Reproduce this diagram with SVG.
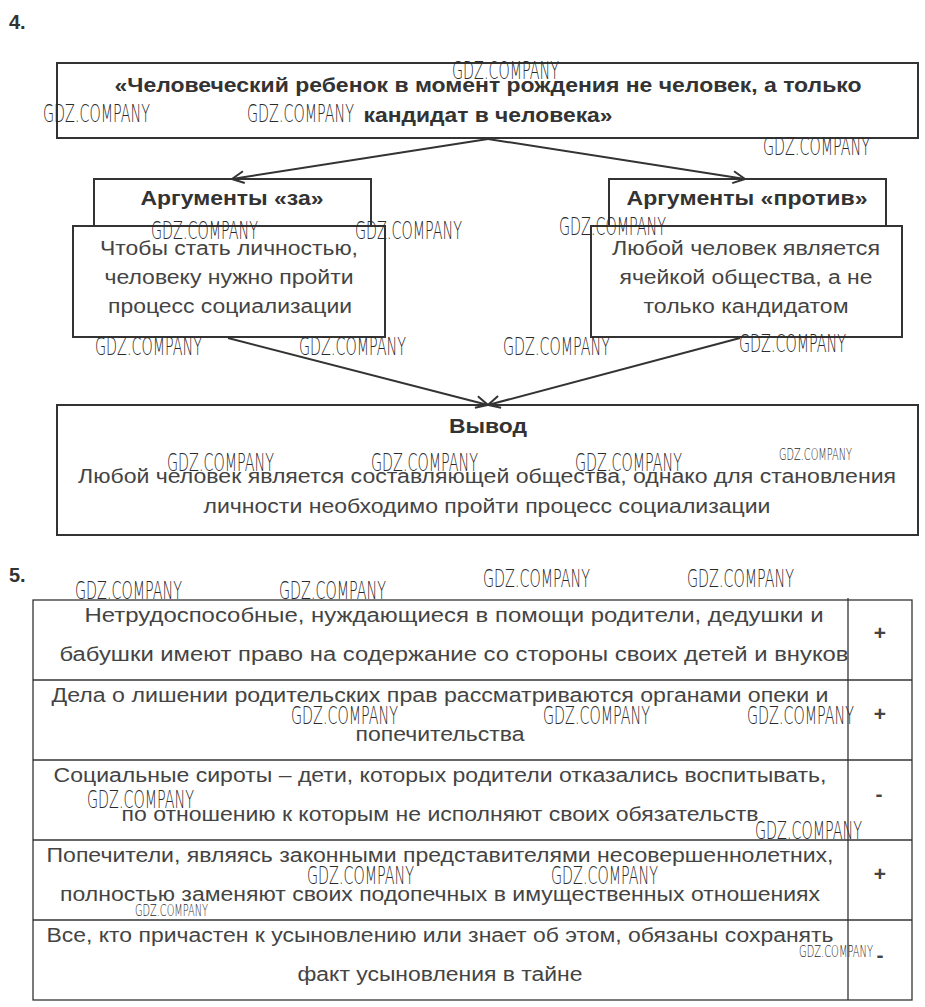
<svg xmlns="http://www.w3.org/2000/svg" width="925" height="1007" viewBox="0 0 925 1007">
<defs>
<style>
.box{fill:#fff;stroke:#333;stroke-width:2}
.hd{font-family:"Liberation Sans",Arial,sans-serif;font-weight:bold;font-size:20px;fill:#333;text-anchor:middle}
.tx{font-family:"Liberation Sans",Arial,sans-serif;font-size:20px;fill:#444;text-anchor:middle}
.num{font-family:"Liberation Sans",Arial,sans-serif;font-weight:bold;font-size:20px;fill:#333}
.tl{stroke:#333;stroke-width:1.3;fill:none}
.conn{stroke:#333;stroke-width:2;fill:none}
.wm{font-family:"DejaVu Sans","Liberation Sans",sans-serif;font-weight:200;font-size:24px;fill:#2a2a2a}
.wms{font-family:"DejaVu Sans","Liberation Sans",sans-serif;font-weight:200;font-size:15px;fill:#2a2a2a}
.mk{font-family:"Liberation Sans",Arial,sans-serif;font-weight:bold;font-size:21px;fill:#444;text-anchor:middle}
</style>
<marker id="arr" viewBox="0 0 14 14" refX="13" refY="7" markerWidth="14" markerHeight="14" markerUnits="userSpaceOnUse" orient="auto">
<path d="M1,1 L13,7 L1,13" fill="none" stroke="#333" stroke-width="2"/>
</marker>
</defs>
<rect width="925" height="1007" fill="#fff"/>
<text class="num" x="9" y="29">4.</text>
<text class="num" x="9" y="582">5.</text>

<g id="thesis">
<rect class="box" x="57" y="63" width="861" height="75"/>
<text class="hd" x="488" y="92" textLength="747" lengthAdjust="spacingAndGlyphs">«Человеческий ребенок в момент рождения не человек, а только</text>
<text class="hd" x="488" y="122" textLength="249" lengthAdjust="spacingAndGlyphs">кандидат в человека»</text>
</g>

<g id="pro">
<rect class="box" x="94" y="179" width="277" height="47"/>
<text class="hd" x="232" y="205" textLength="183" lengthAdjust="spacingAndGlyphs">Аргументы «за»</text>
<rect class="box" x="73" y="226" width="312" height="111"/>
<text class="tx" x="229" y="255" textLength="258" lengthAdjust="spacingAndGlyphs">Чтобы стать личностью,</text>
<text class="tx" x="229" y="284" textLength="249" lengthAdjust="spacingAndGlyphs">человеку нужно пройти</text>
<text class="tx" x="230" y="313" textLength="244" lengthAdjust="spacingAndGlyphs">процесс социализации</text>
</g>

<g id="contra">
<rect class="box" x="609" y="179" width="277" height="47"/>
<text class="hd" x="747" y="205" textLength="241" lengthAdjust="spacingAndGlyphs">Аргументы «против»</text>
<rect class="box" x="591" y="226" width="311" height="111"/>
<text class="tx" x="746" y="255" textLength="268" lengthAdjust="spacingAndGlyphs">Любой человек является</text>
<text class="tx" x="746" y="284" textLength="253" lengthAdjust="spacingAndGlyphs">ячейкой общества, а не</text>
<text class="tx" x="746" y="313" textLength="205" lengthAdjust="spacingAndGlyphs">только кандидатом</text>
</g>

<g id="conclusion">
<rect class="box" x="57" y="405" width="861" height="130"/>
<text class="hd" x="488" y="433" textLength="78" lengthAdjust="spacingAndGlyphs">Вывод</text>
<text class="tx" x="487" y="483" textLength="818" lengthAdjust="spacingAndGlyphs">Любой человек является составляющей общества, однако для становления</text>
<text class="tx" x="487" y="513" textLength="567" lengthAdjust="spacingAndGlyphs">личности необходимо пройти процесс социализации</text>
</g>

<g id="connectors">
<line class="conn" x1="488" y1="139" x2="232" y2="179" marker-end="url(#arr)"/>
<line class="conn" x1="488" y1="139" x2="745" y2="179" marker-end="url(#arr)"/>
<line class="conn" x1="228" y1="338" x2="488" y2="405" marker-end="url(#arr)"/>
<line class="conn" x1="740" y1="338" x2="488" y2="405" marker-end="url(#arr)"/>
</g>

<g id="table">
<rect class="tl" x="33" y="600" width="879" height="400"/>
<line class="tl" x1="33" y1="680" x2="912" y2="680"/>
<line class="tl" x1="33" y1="760" x2="912" y2="760"/>
<line class="tl" x1="33" y1="840" x2="912" y2="840"/>
<line class="tl" x1="33" y1="920" x2="912" y2="920"/>
<line class="tl" x1="848" y1="598" x2="848" y2="1000" stroke-width="1"/>
</g>

<g id="row1">
<text class="tx" x="454" y="622" textLength="739" lengthAdjust="spacingAndGlyphs">Нетрудоспособные, нуждающиеся в помощи родители, дедушки и</text>
<text class="tx" x="454" y="661" textLength="789" lengthAdjust="spacingAndGlyphs">бабушки имеют право на содержание со стороны своих детей и внуков</text>
<text class="mk" x="880" y="640">+</text>
</g>
<g id="row2">
<text class="tx" x="440" y="702" textLength="777" lengthAdjust="spacingAndGlyphs">Дела о лишении родительских прав рассматриваются органами опеки и</text>
<text class="tx" x="440" y="741" textLength="169" lengthAdjust="spacingAndGlyphs">попечительства</text>
<text class="mk" x="880" y="721">+</text>
</g>
<g id="row3">
<text class="tx" x="440" y="782" textLength="773" lengthAdjust="spacingAndGlyphs">Социальные сироты – дети, которых родители отказались воспитывать,</text>
<text class="tx" x="440" y="821" textLength="637" lengthAdjust="spacingAndGlyphs">по отношению к которым не исполняют своих обязательств</text>
<text class="mk" x="879" y="801">-</text>
</g>
<g id="row4">
<text class="tx" x="440" y="862" textLength="787" lengthAdjust="spacingAndGlyphs">Попечители, являясь законными представителями несовершеннолетних,</text>
<text class="tx" x="440" y="901" textLength="760" lengthAdjust="spacingAndGlyphs">полностью заменяют своих подопечных в имущественных отношениях</text>
<text class="mk" x="880" y="881">+</text>
</g>
<g id="row5">
<text class="tx" x="440" y="942" textLength="787" lengthAdjust="spacingAndGlyphs">Все, кто причастен к усыновлению или знает об этом, обязаны сохранять</text>
<text class="tx" x="440" y="981" textLength="285" lengthAdjust="spacingAndGlyphs">факт усыновления в тайне</text>
<text class="mk" x="880" y="962">-</text>
</g>

<g id="watermarks">
<text class="wm" x="452" y="79" textLength="107" lengthAdjust="spacingAndGlyphs">GDZ.COMPANY</text>
<text class="wm" x="43" y="122" textLength="107" lengthAdjust="spacingAndGlyphs">GDZ.COMPANY</text>
<text class="wm" x="247" y="122" textLength="107" lengthAdjust="spacingAndGlyphs">GDZ.COMPANY</text>
<text class="wm" x="763" y="155" textLength="107" lengthAdjust="spacingAndGlyphs">GDZ.COMPANY</text>
<text class="wm" x="151" y="239" textLength="107" lengthAdjust="spacingAndGlyphs">GDZ.COMPANY</text>
<text class="wm" x="355" y="239" textLength="107" lengthAdjust="spacingAndGlyphs">GDZ.COMPANY</text>
<text class="wm" x="559" y="235" textLength="107" lengthAdjust="spacingAndGlyphs">GDZ.COMPANY</text>
<text class="wm" x="95" y="355" textLength="107" lengthAdjust="spacingAndGlyphs">GDZ.COMPANY</text>
<text class="wm" x="299" y="355" textLength="107" lengthAdjust="spacingAndGlyphs">GDZ.COMPANY</text>
<text class="wm" x="503" y="355" textLength="107" lengthAdjust="spacingAndGlyphs">GDZ.COMPANY</text>
<text class="wm" x="739" y="352" textLength="107" lengthAdjust="spacingAndGlyphs">GDZ.COMPANY</text>
<text class="wm" x="167" y="471" textLength="107" lengthAdjust="spacingAndGlyphs">GDZ.COMPANY</text>
<text class="wm" x="371" y="471" textLength="107" lengthAdjust="spacingAndGlyphs">GDZ.COMPANY</text>
<text class="wm" x="575" y="471" textLength="107" lengthAdjust="spacingAndGlyphs">GDZ.COMPANY</text>
<text class="wms" x="779" y="460" textLength="73" lengthAdjust="spacingAndGlyphs">GDZ.COMPANY</text>
<text class="wm" x="75" y="599" textLength="107" lengthAdjust="spacingAndGlyphs">GDZ.COMPANY</text>
<text class="wm" x="279" y="599" textLength="107" lengthAdjust="spacingAndGlyphs">GDZ.COMPANY</text>
<text class="wm" x="483" y="587" textLength="107" lengthAdjust="spacingAndGlyphs">GDZ.COMPANY</text>
<text class="wm" x="687" y="587" textLength="107" lengthAdjust="spacingAndGlyphs">GDZ.COMPANY</text>
<text class="wm" x="291" y="724" textLength="107" lengthAdjust="spacingAndGlyphs">GDZ.COMPANY</text>
<text class="wm" x="543" y="724" textLength="107" lengthAdjust="spacingAndGlyphs">GDZ.COMPANY</text>
<text class="wm" x="747" y="724" textLength="107" lengthAdjust="spacingAndGlyphs">GDZ.COMPANY</text>
<text class="wm" x="87" y="808" textLength="107" lengthAdjust="spacingAndGlyphs">GDZ.COMPANY</text>
<text class="wm" x="755" y="839" textLength="107" lengthAdjust="spacingAndGlyphs">GDZ.COMPANY</text>
<text class="wm" x="307" y="884" textLength="107" lengthAdjust="spacingAndGlyphs">GDZ.COMPANY</text>
<text class="wm" x="551" y="884" textLength="107" lengthAdjust="spacingAndGlyphs">GDZ.COMPANY</text>
<text class="wms" x="135" y="916" textLength="73" lengthAdjust="spacingAndGlyphs">GDZ.COMPANY</text>
<text class="wms" x="799" y="957" textLength="74" lengthAdjust="spacingAndGlyphs">GDZ.COMPANY</text>
</g>
</svg>
